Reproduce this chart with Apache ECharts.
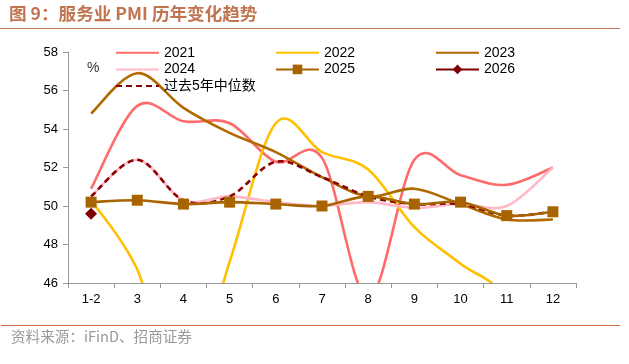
<!DOCTYPE html>
<html><head><meta charset="utf-8">
<script src="https://cdn.jsdelivr.net/npm/echarts@6/dist/echarts.min.js"></script>
<style>html,body{margin:0;padding:0;background:#fff}#c{width:629px;height:364px}</style>
</head><body><div id="c"></div>
<script>
var categories = ['1-2','3','4','5','6','7','8','9','10','11','12'];
var s2021 = [50.9, 55.2, 54.4, 54.3, 52.3, 52.5, 45.2, 52.4, 51.6, 51.1, 52.0];
var s2022 = [50.3, 46.7, 40.0, 47.1, 54.3, 52.8, 51.9, 48.9, 47.0, 45.1, 39.4];
var s2023 = [54.8, 56.9, 55.1, 53.8, 52.8, 51.5, 50.5, 50.9, 50.1, 49.3, 49.3];
var s2024 = [50.5, 52.4, 50.3, 50.5, 50.2, 50.0, 50.2, 49.9, 50.1, 50.0, 52.0];
var s2025 = [50.2, 50.3, 50.1, 50.2, 50.1, 50.0, 50.5, 50.1, 50.2, 49.5, 49.7];
var s2026 = [49.6, null, null, null, null, null, null, null, null, null, null];
var sMedian = [50.5, 52.4, 50.3, 50.5, 52.3, 51.5, 50.5, 50.1, 50.1, 49.5, 49.7];
var yTicks = {min: 46, max: 58, interval: 2};

var FONT = "'Liberation Sans', Arial, 'Noto Sans CJK SC', sans-serif";
var chart = echarts.init(document.getElementById('c'), null, {renderer: 'canvas'});

// Excel-like smoothed curve (Catmull-Rom style bezier) through the data points, via the chart's own coordinate mapping
function curveSeries(name, vals, color, dash, z) {
  return {
    name: name, type: 'custom', clip: true, z: z || 2, silent: true,
    itemStyle: {color: color},
    data: vals.map(function (v, i) { return [i, v]; }),
    encode: {x: 0, y: 1},
    renderItem: function (params, api) {
      if (params.dataIndex !== 0) return null;
      var p = vals.map(function (v, i) { return api.coord([i, v]); });
      var d = 'M' + p[0][0] + ',' + p[0][1];
      for (var i = 0; i < p.length - 1; i++) {
        var p0 = p[i - 1] || p[i], p1 = p[i], p2 = p[i + 1], p3 = p[i + 2] || p[i + 1];
        var c1x = p1[0] + (p2[0] - p0[0]) / 6, c1y = p1[1] + (p2[1] - p0[1]) / 6;
        var c2x = p2[0] - (p3[0] - p1[0]) / 6, c2y = p2[1] - (p3[1] - p1[1]) / 6;
        d += ' C' + c1x + ',' + c1y + ' ' + c2x + ',' + c2y + ' ' + p2[0] + ',' + p2[1];
      }
      return {type: 'path', shape: {pathData: d},
        style: {stroke: color, lineWidth: 2.6, fill: null, lineDash: dash || null, lineCap: 'butt', lineJoin: 'round'}};
    }
  };
}
// legend entries (line style samples)
function legendLine(name, color, extra) {
  var o = {name: name, type: 'line', data: [], symbol: 'none',
    lineStyle: {color: color, width: 2.6}, itemStyle: {color: color}};
  for (var k in extra) o[k] = extra[k];
  return o;
}
var legText = {fontFamily: FONT, fontSize: 14, color: '#000', lineHeight: 14};
function leg(x, y, data) {
  return {orient: 'vertical', left: x, top: y, data: data, itemWidth: 43, itemHeight: 12, itemGap: 2.7,
    textStyle: legText, padding: 0, selectedMode: false};
}
var hideSym = {opacity: 0};
chart.setOption({
  animation: false,
  textStyle: {fontFamily: FONT},
  grid: {left: 68, right: 53, top: 52, bottom: 81},
  legend: [
    leg(115, 45.7, [{name: '2021', itemStyle: hideSym}, {name: '2024', itemStyle: hideSym}, {name: '过去5年中位数', itemStyle: hideSym}]),
    leg(275, 45.7, [{name: '2022', itemStyle: hideSym}, {name: '2025', lineStyle: {opacity: 1}}]),
    leg(435, 45.7, [{name: '2023', itemStyle: hideSym}, '2026'])
  ],
  graphic: [
    {type: 'text', left: 9, top: 5, style: {text: '图 9：服务业 PMI 历年变化趋势', fill: '#C07550', font: "bold 17.6px 'Noto Sans CJK SC', sans-serif"}},
    {type: 'line', shape: {x1: 0, y1: 28.5, x2: 620, y2: 28.5}, style: {stroke: '#C07550', lineWidth: 1.2}},
    {type: 'line', shape: {x1: 1, y1: 325.5, x2: 620, y2: 325.5}, style: {stroke: '#D07040', lineWidth: 1.2}},
    {type: 'text', left: 11, top: 329, style: {text: '资料来源：iFinD、招商证券', fill: '#999', font: "14.6px 'Noto Sans CJK SC', sans-serif"}},
    {type: 'text', left: 87, top: 61, style: {text: '%', fill: '#333', font: "14px 'Liberation Sans', Arial, sans-serif"}}
  ],
  xAxis: {
    type: 'category', data: categories, boundaryGap: true,
    axisLine: {lineStyle: {color: '#999', width: 1}},
    axisTick: {show: true, length: 5, lineStyle: {color: '#999'}},
    axisLabel: {color: '#000', fontSize: 13, fontFamily: FONT, margin: 10}
  },
  yAxis: {
    type: 'value', min: yTicks.min, max: yTicks.max, interval: yTicks.interval,
    splitLine: {show: false},
    axisLine: {show: true, lineStyle: {color: '#999', width: 1}},
    axisTick: {show: true, inside: false, length: 5, lineStyle: {color: '#999'}},
    axisLabel: {color: '#000', fontSize: 13, fontFamily: FONT, margin: 10}
  },
  series: [
    legendLine('2021', '#FF6B6B'),
    legendLine('2022', '#FFC000'),
    legendLine('2023', '#B06A00'),
    legendLine('2024', '#FFB8C6'),
    legendLine('过去5年中位数', '#8B0000', {lineStyle: {color: '#8B0000', width: 2.6, type: [6, 4]}}),
    {name: '2025', type: 'line', data: s2025, symbol: 'rect', symbolSize: 11, showSymbol: true, z: 5,
      lineStyle: {color: '#A86400', width: 2.6, opacity: 0}, itemStyle: {color: '#A86400'}},
    {name: '2026', type: 'line', data: s2026, symbol: 'diamond', symbolSize: 12, showSymbol: true, z: 6,
      lineStyle: {color: '#800000', width: 2.6}, itemStyle: {color: '#800000'}},
    curveSeries('2021', s2021, '#FF6B6B'),
    curveSeries('2022', s2022, '#FFC000'),
    curveSeries('2023', s2023, '#B06A00'),
    curveSeries('2024', s2024, '#FFB8C6'),
    curveSeries('过去5年中位数', sMedian, '#8B0000', [6, 4], 3),
    curveSeries('2025', s2025, '#A86400', null, 4)
  ]
});
</script></body></html>
